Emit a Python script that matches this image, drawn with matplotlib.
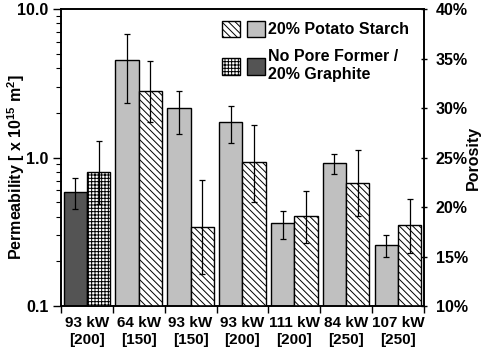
import matplotlib
matplotlib.use("Agg")
import matplotlib.pyplot as plt
import numpy as np
from matplotlib.patches import Patch
from matplotlib.legend_handler import HandlerTuple
from matplotlib.ticker import FixedLocator, FuncFormatter, LogLocator, NullFormatter

plt.rcParams['font.family'] = ['Liberation Sans', 'DejaVu Sans']
plt.rcParams['font.weight'] = 'bold'
plt.rcParams['mathtext.fontset'] = 'custom'
plt.rcParams['mathtext.rm'] = 'Liberation Sans:bold'
plt.rcParams['mathtext.default'] = 'rm'
plt.rcParams['hatch.linewidth'] = 0.7

categories = ['93 kW\n[200]', '64 kW\n[150]', '93 kW\n[150]', '93 kW\n[200]',
              '111 kW\n[200]', '84 kW\n[250]', '107 kW\n[250]']
perm = [0.586, 4.51, 2.14, 1.73, 0.36, 0.918, 0.259]
perm_lo = [0.45, 2.32, 1.43, 1.25, 0.283, 0.774, 0.215]
perm_hi = [0.73, 6.8, 2.82, 2.22, 0.434, 1.056, 0.30]
poro = [23.5, 31.75, 17.95, 24.5, 19.06, 22.46, 18.15]
poro_lo = [20.3, 28.55, 13.2, 20.5, 16.4, 19.1, 15.4]
poro_hi = [26.7, 34.8, 22.7, 28.3, 21.65, 25.8, 20.8]
perm_colors = ['#545454'] + ['#c0c0c0'] * 6
poro_hatches = ['+++++'] + ['\\\\\\\\\\'] * 6
legend_labels = ['20% Potato Starch', 'No Pore Former /\n20% Graphite']

fig = plt.figure(figsize=(4.85, 3.49), dpi=100)
ax = fig.add_axes([0.1258, 0.1232, 0.874 - 0.1258, 0.974 - 0.1232])
ax2 = ax.twinx()

x = np.arange(len(categories))
w = 0.45
perm = np.array(perm); poro = np.array(poro)
perm_err = [perm - np.array(perm_lo), np.array(perm_hi) - perm]
poro_err = [poro - np.array(poro_lo), np.array(poro_hi) - poro]

ax.bar(x - w / 2, perm, width=w, color=perm_colors, edgecolor='black', linewidth=1.0, zorder=2)
ax.errorbar(x - w / 2, perm, yerr=perm_err, fmt='none', ecolor='black', elinewidth=0.9,
            capsize=2, capthick=0.9, zorder=3)
ax2.bar(x + w / 2, poro, width=w, color='white', edgecolor='black', linewidth=1.0,
        hatch=poro_hatches, zorder=2)
ax2.errorbar(x + w / 2, poro, yerr=poro_err, fmt='none', ecolor='black', elinewidth=0.9,
             capsize=2, capthick=0.9, zorder=3)

ax.set_yscale('log')
ax.set_ylim(0.1, 10)
ax.set_xlim(-0.5, len(categories) - 0.5)
ax.yaxis.set_major_locator(FixedLocator([0.1, 1, 10]))
ax.yaxis.set_major_formatter(FuncFormatter(lambda v, p: '%.1f' % v))
ax.yaxis.set_minor_locator(LogLocator(base=10, subs=np.arange(2, 10)))
ax.yaxis.set_minor_formatter(NullFormatter())
ax.tick_params(axis='y', which='major', length=6, width=1.0, direction='out', labelsize=11.5, pad=3)
ax.tick_params(axis='y', which='minor', length=3.5, width=0.8, direction='out')
ax.set_ylabel(r'Permeability [ x 10$^{15}$ m$^{2}$]', fontsize=11.5, fontweight='bold')
ax.yaxis.set_label_coords(-0.094, 0.466)

ax.set_xticks(x)
ax.set_xticklabels(categories, fontsize=11, fontweight='bold', linespacing=1.3)
ax.tick_params(axis='x', which='major', length=0, pad=7)
ax.set_xticks(np.arange(-0.5, len(categories) + 0.5, 1), minor=True)
ax.tick_params(axis='x', which='minor', length=5, width=1.0, direction='out')

ax2.set_ylim(10, 40)
ax2.set_yticks([10, 15, 20, 25, 30, 35, 40])
ax2.set_yticklabels(['%d%%' % v for v in [10, 15, 20, 25, 30, 35, 40]], fontsize=11.5)
ax2.tick_params(axis='y', length=5, width=1.0, direction='inout', pad=6)
ax2.set_ylabel('Porosity', fontsize=11.5, fontweight='bold')
ax2.yaxis.set_label_coords(1.115, 0.5)

for a in (ax, ax2):
    for s in a.spines.values():
        s.set_linewidth(1.2)

handles = [
    (Patch(facecolor='white', edgecolor='black', hatch=poro_hatches[1]),
     Patch(facecolor=perm_colors[1], edgecolor='black')),
    (Patch(facecolor='white', edgecolor='black', hatch=poro_hatches[0]),
     Patch(facecolor=perm_colors[0], edgecolor='black')),
]
leg = ax2.legend(handles, legend_labels, handler_map={tuple: HandlerTuple(ndivide=None, pad=0.45)},
                 loc='upper left', bbox_to_anchor=(0.435, 0.972), frameon=False,
                 handlelength=2.7, handleheight=1.25, handletextpad=0.2, labelspacing=0.75,
                 borderaxespad=0.0, borderpad=0.2, prop={'weight': 'bold', 'size': 11.5})

fig.savefig('out.png', dpi=100)
